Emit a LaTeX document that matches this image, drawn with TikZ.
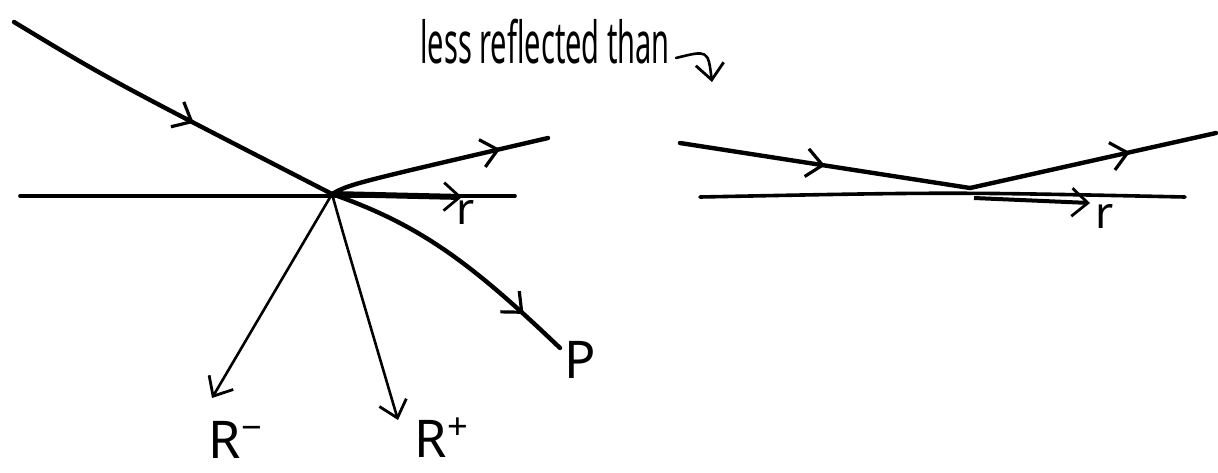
\documentclass[tikz,border=0pt]{standalone}
\usepackage{fontspec}
\setmainfont{Noto Sans}
\usepackage{tikz}
\usetikzlibrary{arrows.meta,decorations.markings}

\tikzset{
  ray/.style={line width=2.2pt, line cap=round},
  thinray/.style={line width=1.3pt, line cap=round},
  surface/.style={line width=1.8pt, line cap=round},
  midarrow/.style={postaction={decorate}, decoration={markings,
      mark=at position #1 with {\arrow{Straight Barb[length=8pt,width=14pt,line width=1.6pt]}}}},
  endarrow/.style={-{Straight Barb[length=8pt,width=14pt,line width=1.4pt]}},
  lbl/.style={font=\fontsize{26}{26}\selectfont, inner sep=0pt},
  smalllbl/.style={font=\fontsize{22}{22}\selectfont, inner sep=0pt}
}

\begin{document}
\begin{tikzpicture}[x=0.5pt, y=-0.5pt]
  \useasboundingbox (0,0) rectangle (1218,472);

  % left picture: grazing ray split at the surface
  \coordinate (O) at (332,194);
  \coordinate (inA) at (14,22);
  \coordinate (surfL) at (20,196);
  \coordinate (surfR) at (515,196);
  \coordinate (reflA) at (548,138);
  \coordinate (rA) at (462,197);
  \coordinate (pA) at (560,348);
  \coordinate (rmA) at (212,398);
  \coordinate (rpA) at (398,420);

  \draw [surface] (surfL) -- (surfR);
  \draw [ray, midarrow=0.57] (inA) .. controls (110,80) .. (O);
  \draw [ray, midarrow=0.78] (O) .. controls (350,184) .. (reflA);
  \draw [line width=3pt, endarrow] (O) -- (rA);
  \draw [ray, midarrow=0.82] (O) .. controls (420,225) and (470,262) .. (pA);
  \draw [thinray, endarrow] (O) -- (rmA);
  \draw [thinray, endarrow] (O) .. controls (345,240) .. (rpA);

  \node [smalllbl] (rL) at (466,212) {r};
  \node [lbl] (pL) at (580,360) {P};
  \node [lbl] (rmL) at (236,440) {R\textsuperscript{−}};
  \node [lbl] (rpL) at (442,438) {R\textsuperscript{+}};

  % caption with curled pointer
  \node [font=\fontsize{29}{29}\selectfont, inner sep=0pt, anchor=base west] (cap) at (420,63)
    {\scalebox{0.5}[1]{less reflected than}};
  \coordinate (capA) at (676,58);
  \coordinate (capB) at (712,82);
  \draw [thinray, endarrow] (capA) .. controls (708,50) .. (capB);

  % right picture: nearly grazing ray
  \coordinate (O2) at (970,188);
  \coordinate (inB) at (680,143);
  \coordinate (surfL2) at (700,197);
  \coordinate (surfR2) at (1185,197);
  \coordinate (reflB) at (1216,133);
  \coordinate (rB) at (1090,203);

  \draw [surface] (surfL2) .. controls (950,192) .. (surfR2);
  \draw [ray, midarrow=0.5] (inB) -- (O2);
  \draw [ray, midarrow=0.65] (O2) -- (reflB);
  \draw [line width=2pt, endarrow] (O2) ++(4,10) coordinate (rB0) -- (rB);
  \node [smalllbl] (rL2) at (1105,216) {r};
\end{tikzpicture}
\end{document}
